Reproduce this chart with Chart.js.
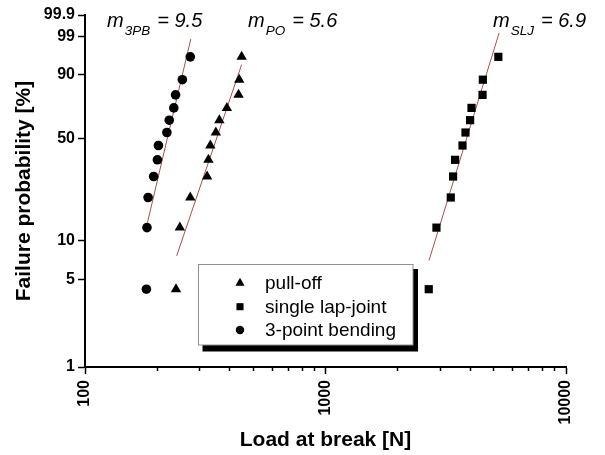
<!DOCTYPE html>
<html>
<head>
<meta charset="utf-8">
<script src="https://cdn.jsdelivr.net/npm/chart.js@4.4.1/dist/chart.umd.min.js"></script>
<style>
html,body{margin:0;padding:0;background:#fff;}
canvas{display:block;}
</style>
</head>
<body>
<canvas id="c" width="605" height="455"></canvas>
<script>
// ---- data ----
const seriesNames = ['pull-off', 'single lap-joint', '3-point bending'];
const probabilities = [4.17, 12.5, 20.83, 29.17, 37.5, 45.83, 54.17, 62.5, 70.83, 79.17, 87.5, 95.83];
const pullOffLoads  = [239, 248, 274, 322, 326, 332, 350, 362, 389, 435, 438, 448];
const lapJointLoads = [2687, 2893, 3318, 3392, 3458, 3712, 3820, 3993, 4047, 4498, 4511, 5233];
const bendingLoads  = [180, 181, 183, 193, 200, 202, 219, 224, 234, 238, 254, 274];

const pullOffFitLoads  = [240.5, 448];
const pullOffFitProbs  = [7.6, 93.6];
const lapJointFitLoads = [2694, 5273];
const lapJointFitProbs = [7.0, 99.3];
const bendingFitLoads  = [181.8, 275.4];
const bendingFitProbs  = [13.6, 98.8];

const slopeSubscripts = ['3PB', 'PO', 'SLJ'];
const slopeValues     = ['9.5', '5.6', '6.9'];

const yTickValues  = [1, 5, 10, 50, 90, 99, 99.9];
const xMajorTicks  = [100, 1000, 10000];
const xMinorTicks  = [200, 300, 400, 500, 600, 700, 800, 900, 2000, 3000, 4000, 5000, 6000, 7000, 8000, 9000];

// ---- Weibull probability scale ----
const FAMILY = "'Liberation Sans', Arial, Helvetica, sans-serif";
Chart.defaults.font.family = FAMILY;
Chart.defaults.color = '#000';

const weib = p => Math.log(-Math.log(1 - p / 100));

class WeibullScale extends Chart.LinearScale {
  determineDataLimits() {
    this.min = weib(this.options.min);
    this.max = weib(this.options.max);
  }
  buildTicks() {
    return yTickValues.map(v => ({ value: v }));
  }
  getPixelForValue(value) {
    if (value === null || value === undefined || isNaN(value)) return NaN;
    return this.getPixelForDecimal((weib(value) - this.min) / (this.max - this.min));
  }
  getValueForPixel(pixel) {
    const w = this.min + this.getDecimalForPixel(pixel) * (this.max - this.min);
    return 100 * (1 - Math.exp(-Math.exp(w)));
  }
}
WeibullScale.id = 'weibull';
WeibullScale.defaults = {};
Chart.register(WeibullScale);

const pts = (xs, ys) => xs.map((x, i) => ({ x: x, y: ys[i] }));

const markerStyles = ['triangle', 'rect', 'circle'];
const markerRadii  = [6.0, 5.8, 4.8];
const legendRadii  = [5.3, 5.0, 4.2];

const overlay = {
  id: 'overlay',
  afterDraw(chart) {
    const ctx = chart.ctx;
    ctx.save();
    ctx.fillStyle = '#000';
    ctx.textBaseline = 'alphabetic';
    ctx.textAlign = 'left';
    // slope annotations
    const xs = [107, 248, 493];
    slopeSubscripts.forEach((sub, i) => {
      let x = xs[i];
      const y = 27;
      ctx.font = 'italic 20px ' + FAMILY;
      ctx.fillText('m', x, y);
      x += ctx.measureText('m').width + 1;
      ctx.font = 'italic 13.5px ' + FAMILY;
      ctx.fillText(sub, x, y + 7.5);
      x += ctx.measureText(sub).width + 1.5;
      ctx.font = 'italic 20px ' + FAMILY;
      ctx.fillText(' = ' + slopeValues[i], x, y);
    });
    // legend box with shadow
    ctx.fillStyle = '#000';
    ctx.fillRect(202.5, 269, 215.5, 82.5);
    ctx.fillStyle = '#fff';
    ctx.fillRect(198.5, 264.5, 214.5, 80.5);
    ctx.strokeStyle = '#8f8f8f';
    ctx.lineWidth = 1;
    ctx.strokeRect(198.5, 264.5, 214.5, 80.5);
    const rowsMarkerY = [283, 306.7, 330];
    const rowsTextY = [288.5, 312.5, 335.5];
    [0, 1, 2].forEach((k, r) => {
      ctx.fillStyle = '#000';
      Chart.helpers.drawPoint(ctx, { pointStyle: markerStyles[k], radius: legendRadii[k], rotation: 0, borderWidth: 0 }, 240, rowsMarkerY[r]);
      ctx.font = '19px ' + FAMILY;
      ctx.fillStyle = '#000';
      ctx.fillText(seriesNames[k], 265, rowsTextY[r]);
    });
    ctx.restore();
  }
};

const fitColor = '#a5504f';

new Chart(document.getElementById('c'), {
  type: 'scatter',
  data: {
    datasets: [
      { label: seriesNames[0], data: pts(pullOffLoads, probabilities), pointStyle: markerStyles[0], pointRadius: markerRadii[0], backgroundColor: '#000', borderWidth: 0, xAxisID: 'x', yAxisID: 'y', order: 1 },
      { label: seriesNames[1], data: pts(lapJointLoads, probabilities), pointStyle: markerStyles[1], pointRadius: markerRadii[1], backgroundColor: '#000', borderWidth: 0, xAxisID: 'x', yAxisID: 'y', order: 1 },
      { label: seriesNames[2], data: pts(bendingLoads, probabilities), pointStyle: markerStyles[2], pointRadius: markerRadii[2], backgroundColor: '#000', borderWidth: 0, xAxisID: 'x', yAxisID: 'y', order: 1 },
      { type: 'line', label: 'fit PO', data: pts(pullOffFitLoads, pullOffFitProbs), borderColor: fitColor, borderWidth: 1, pointRadius: 0, fill: false, xAxisID: 'x', yAxisID: 'y', order: 2 },
      { type: 'line', label: 'fit SLJ', data: pts(lapJointFitLoads, lapJointFitProbs), borderColor: fitColor, borderWidth: 1, pointRadius: 0, fill: false, xAxisID: 'x', yAxisID: 'y', order: 2 },
      { type: 'line', label: 'fit 3PB', data: pts(bendingFitLoads, bendingFitProbs), borderColor: fitColor, borderWidth: 1, pointRadius: 0, fill: false, xAxisID: 'x', yAxisID: 'y', order: 2 }
    ]
  },
  options: {
    responsive: false,
    animation: false,
    layout: { padding: { top: 15, right: 39, left: 0, bottom: 0 } },
    plugins: { legend: { display: false }, tooltip: { enabled: false } },
    scales: {
      x: {
        type: 'logarithmic', position: 'bottom', min: 100, max: 10000,
        afterBuildTicks: s => { s.ticks = xMajorTicks.map(v => ({ value: v, major: true })); },
        afterFit: s => { s.height = 88; },
        grid: { drawOnChartArea: false, tickLength: 7, tickWidth: 1.5, tickColor: '#000' },
        border: { display: true, color: '#000', width: 2 },
        ticks: { autoSkip: false, minRotation: 90, maxRotation: 90, padding: 6, color: '#000', font: { size: 16, weight: 'bold' }, callback: v => String(v) },
        title: { display: true, text: 'Load at break [N]', color: '#000', font: { size: 21, weight: 'bold' }, padding: { top: 0, bottom: 2 } }
      },
      xMinor: {
        type: 'logarithmic', position: 'bottom', weight: -1, min: 100, max: 10000,
        afterBuildTicks: s => { s.ticks = xMinorTicks.map(v => ({ value: v })); },
        afterFit: s => { s.height = 0; },
        grid: { drawOnChartArea: false, tickLength: 4, tickWidth: 1.5, tickColor: '#000' },
        border: { display: false },
        ticks: { display: false, autoSkip: false }
      },
      y: {
        type: 'weibull', position: 'left', min: 1, max: 99.9,
        afterFit: s => { s.width = 85; },
        grid: { drawOnChartArea: false, tickLength: 7, tickWidth: 1.5, tickColor: '#000' },
        border: { display: true, color: '#000', width: 2 },
        ticks: { autoSkip: false, padding: 3, color: '#000', font: { size: 16, weight: 'bold' }, callback: v => String(v) },
        title: { display: true, text: 'Failure probability [%]', color: '#000', font: { size: 21, weight: 'bold' }, padding: { top: 12, bottom: 0 } }
      }
    }
  },
  plugins: [overlay]
});
</script>
</body>
</html>
